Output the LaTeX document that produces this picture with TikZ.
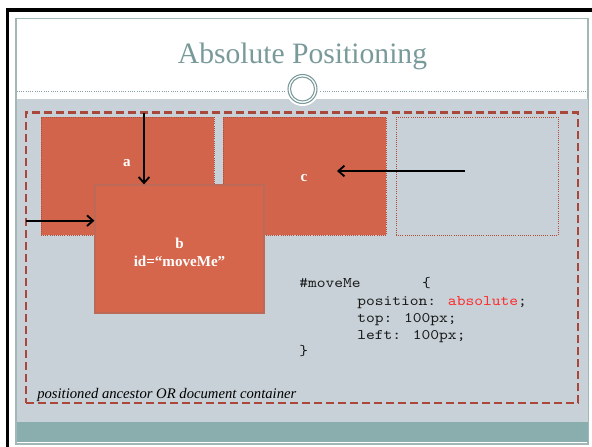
\documentclass[tikz,border=0pt]{standalone}
\usepackage{fontspec}
\setmainfont{Liberation Serif}
\newfontfamily\codefont{Latin Modern Mono}[FakeStretch=1.14]
\usetikzlibrary{arrows.meta,fit}
\definecolor{boxfill}{HTML}{D1644A}
\definecolor{boxbfill}{HTML}{D5664C}
\definecolor{boxedge}{HTML}{B04E39}
\definecolor{slidegray}{HTML}{C7D1D7}
\definecolor{slideteal}{HTML}{8AADAD}
\definecolor{titlecol}{HTML}{7A9A9A}
\definecolor{dashcol}{HTML}{A9483A}
\definecolor{codered}{HTML}{FF2A2A}
\tikzset{
  boxstyle/.style={fill=boxfill, draw=boxedge, densely dotted, line width=0.6pt, inner sep=0pt},
  emptybox/.style={draw=boxedge, densely dotted, line width=0.6pt, inner sep=0pt},
  movebox/.style={fill=boxbfill, draw=boxedge!85, line width=0.9pt, inner sep=0pt},
  lbl/.style={text=white, font=\bfseries\fontsize{11.3}{13}\selectfont, inner sep=0pt, anchor=base},
  codeline/.style={font=\codefont\fontsize{11}{13}\selectfont, inner sep=0pt, anchor=base west, text=black!90},
  arr/.style={-{Straight Barb[length=4.5pt,width=8pt,line width=1.4pt]}, line width=1.5pt, black},
}
\begin{document}
\begin{tikzpicture}[x=0.75pt,y=-0.75pt]
\useasboundingbox (0,0) rectangle (592,446);
% slide
\fill[white] (0,0) rectangle (592,446);
\draw[line width=2.4pt] (594,10) -- (7.5,10) -- (7.5,448);
\draw[titlecol!70, line width=0.8pt, fill=white] (16,18.5) rectangle (588,444);
\fill[slidegray] (16.5,99) rectangle (587.5,422);
\fill[slideteal] (16.5,422) rectangle (587.5,442);
\draw[titlecol!90, densely dotted, line width=0.7pt] (16.5,91) -- (587.5,91);
\fill[white] (302.5,89) circle (17);
\draw[titlecol, line width=0.8pt] (302.5,89) circle (14.5);
\draw[titlecol, line width=0.8pt] (302.5,89) circle (12);
\node (title) [anchor=base, inner sep=0pt, text=titlecol, font=\fontsize{22.2}{26}\selectfont] at (302.5,63) {Absolute Positioning};
% container
\node (cont) [draw=dashcol, dash pattern=on 6pt off 3pt, line width=2.1pt, inner sep=0pt, fit={(26,112.7) (578,403)}] {};
% boxes
\node (a) [boxstyle, fit={(41,117) (214,235)}] {};
\node (c) [boxstyle, fit={(223,117) (386,235)}] {};
\node (e) [emptybox, fit={(396,117) (558,235)}] {};
\node (b) [movebox, fit={(95,185) (264,313)}] {};
% labels
\node (la) [lbl] at (127,166.5) {a};
\node (lc) [lbl] at (304,181.5) {c};
\node (lb) [lbl] at (179.5,248) {b};
\node (lid) [lbl] at (179.5,266) {id=“moveMe”};
% arrows
\coordinate (topstart) at (144,112.7);
\coordinate (leftstart) at (26,220.7);
\coordinate (cstart) at (465,171);
\coordinate (cend) at (337,171);
\draw[arr] (topstart) -- (topstart |- b.north);
\draw[arr] (leftstart) -- (b.west |- leftstart);
\draw[arr] (cstart) -- (cend);
% code
\node (code1) [codeline] at (299,287) {\#moveMe\ \ \ \ \ \ \ \{};
\node (code2) [codeline] at (357,305) {position: \textcolor{codered}{absolute};};
\node (code3) [codeline] at (357,322) {top: 100px;};
\node (code4) [codeline] at (357,339) {left: 100px;};
\node (code5) [codeline] at (299,355) {\}};
% caption
\node (cap) [anchor=base west, inner sep=0pt, font=\itshape\fontsize{11}{13}\selectfont, text=black] at (37,398.5) {positioned ancestor OR document container};
\end{tikzpicture}
\end{document}
